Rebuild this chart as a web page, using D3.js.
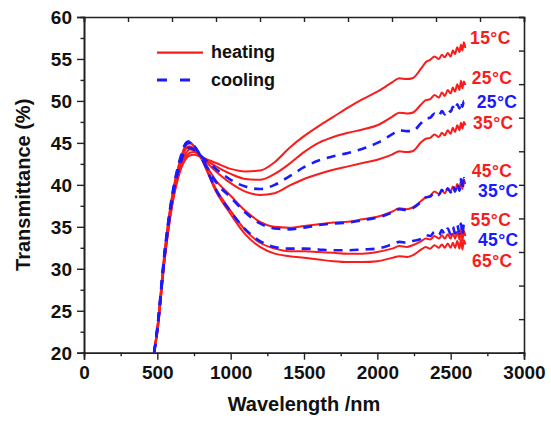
<!DOCTYPE html>
<html>
<head>
<meta charset="utf-8">
<script src="https://cdn.jsdelivr.net/npm/d3@7/dist/d3.min.js"></script>
<style>
  html, body { margin: 0; padding: 0; background: #fff; }
  svg { display: block; }
  text { font-family: "Liberation Sans", Arial, sans-serif; }
</style>
</head>
<body>
<svg id="chart" width="551" height="421"></svg>
<script>
// ---- data ----
const wavelength = [478, 500, 550, 600, 650, 700, 720, 750, 800, 900, 1000, 1100, 1200, 1300, 1400, 1500, 1600, 1700, 1800, 1900, 2000, 2100, 2150, 2200, 2240,
  2300, 2330, 2360, 2390, 2420, 2440, 2460, 2480, 2500, 2515, 2530, 2545, 2560, 2570, 2580, 2590, 2600];

const heating15 = [20, 22.4, 31.0, 37.4, 41.3, 43.2, 43.5, 43.6, 43.3, 42.6, 41.9, 41.6, 41.7, 42.7, 44.4, 45.8, 47.0, 48.1, 49.2, 50.2, 51.1, 52.2, 52.7, 52.6, 52.7,
  53.9, 54.6, 54.9, 55.3, 55.0, 55.5, 55.2, 55.7, 55.3, 56.0, 55.6, 56.4, 55.8, 56.7, 56.0, 57.0, 56.3];
const heating25 = [20, 22.5, 31.2, 37.6, 41.5, 43.5, 43.8, 43.9, 43.3, 42.2, 41.3, 40.7, 40.6, 41.3, 42.5, 43.9, 45.0, 45.7, 46.2, 46.6, 47.1, 48.1, 48.6, 48.5, 48.6,
  49.6, 50.1, 50.2, 50.7, 50.4, 51.0, 50.6, 51.3, 50.9, 51.6, 51.1, 52.0, 51.3, 52.4, 51.5, 52.3, 51.9];
const heating35 = [20, 22.6, 31.3, 37.8, 41.8, 43.9, 44.2, 44.1, 43.3, 41.6, 40.2, 39.2, 38.8, 39.0, 39.9, 40.7, 41.3, 41.8, 42.2, 42.6, 43.0, 43.6, 44.0, 43.9, 44.0,
  45.1, 45.5, 45.6, 46.0, 45.7, 46.2, 45.9, 46.5, 46.1, 46.8, 46.3, 47.1, 46.5, 47.4, 46.7, 47.5, 47.1];
const heating45 = [20, 22.8, 31.7, 38.2, 42.2, 44.4, 44.6, 44.3, 43.2, 40.5, 38.7, 36.9, 35.6, 35.0, 34.9, 35.1, 35.3, 35.5, 35.6, 35.9, 36.2, 36.8, 37.2, 37.1, 37.3,
  38.1, 38.5, 38.7, 39.2, 38.9, 39.3, 39.0, 39.5, 39.2, 39.8, 39.3, 40.1, 39.4, 40.5, 39.5, 40.6, 40.1];
const heating55 = [20, 22.9, 31.9, 38.5, 42.5, 44.8, 45.0, 44.6, 43.2, 39.5, 36.9, 34.6, 33.1, 32.4, 32.1, 32.1, 32.0, 31.9, 31.8, 31.8, 32.0, 32.4, 32.7, 32.6, 32.8,
  33.3, 33.6, 33.5, 33.9, 33.6, 34.0, 33.6, 34.1, 33.6, 34.2, 33.6, 34.4, 33.5, 34.6, 33.4, 34.5, 33.9];
const heating65 = [20, 23.0, 32.2, 38.6, 42.6, 44.9, 45.1, 44.6, 43.1, 39.2, 36.5, 34.1, 32.6, 31.8, 31.5, 31.3, 31.1, 30.9, 30.8, 30.8, 30.9, 31.3, 31.5, 31.4, 31.6,
  32.3, 32.6, 32.4, 32.8, 32.5, 32.9, 32.5, 33.0, 32.5, 33.1, 32.5, 33.3, 32.4, 33.5, 32.3, 33.4, 32.9];
const cooling25 = [20, 22.7, 31.6, 38.1, 42.1, 44.3, 44.4, 44.2, 43.4, 41.9, 40.6, 39.8, 39.5, 40.0, 41.0, 42.1, 42.9, 43.4, 43.8, 44.3, 45.0, 46.0, 46.5, 46.4, 46.4,
  47.4, 47.9, 48.0, 48.5, 48.2, 48.8, 48.4, 49.0, 48.7, 49.3, 48.9, 49.6, 49.1, 49.9, 49.3, 50.0, 49.7];
const cooling35 = [20, 22.9, 31.8, 38.4, 42.5, 44.9, 45.0, 44.6, 43.3, 40.3, 38.5, 36.7, 35.4, 34.8, 34.7, 34.9, 35.2, 35.4, 35.5, 35.8, 36.1, 36.7, 37.1, 37.0, 37.2,
  38.0, 38.5, 38.6, 39.1, 38.8, 39.4, 38.9, 39.6, 39.1, 39.9, 39.2, 40.2, 39.3, 40.7, 39.4, 40.8, 40.0];
const cooling45 = [20, 23.0, 32.1, 38.7, 42.8, 45.1, 45.2, 44.7, 43.3, 39.4, 36.8, 34.7, 33.3, 32.6, 32.4, 32.4, 32.3, 32.2, 32.2, 32.3, 32.4, 32.9, 33.2, 33.1, 33.3,
  33.6, 34.0, 33.9, 34.4, 34.0, 34.6, 34.1, 34.8, 34.1, 35.0, 34.2, 35.2, 34.2, 35.4, 34.0, 35.3, 34.6];

const heatingSeries = [heating15, heating25, heating35, heating45, heating55, heating65];
const coolingSeries = [cooling25, cooling35, cooling45];

const xTicks = [0, 500, 1000, 1500, 2000, 2500, 3000];
const yTicks = [20, 25, 30, 35, 40, 45, 50, 55, 60];

const labelText  = ["15°C", "25°C", "25°C", "35°C", "45°C", "35°C", "55°C", "45°C", "65°C"];
const labelKind  = ["heating", "heating", "cooling", "heating", "heating", "cooling", "heating", "cooling", "heating"];
const labelX     = [2632, 2643, 2677, 2652, 2643, 2686, 2636, 2686, 2645];
const labelY     = [57.56, 52.73, 49.91, 47.45, 41.65, 39.27, 35.87, 33.43, 31.0];

const legendNames = ["heating", "cooling"];

// ---- layout ----
const RED = "#fa1c1c", BLUE = "#1a1aff";
const svg = d3.select("#chart");
const mLeft = 84, mRight = 524, mTop = 17, mBottom = 352.7;

const x = d3.scaleLinear().domain([0, 3000]).range([mLeft, mRight]);
const y = d3.scaleLinear().domain([20, 60]).range([mBottom, mTop]);

const axisColor = "#222";
const tickFont = "bold 19px 'Liberation Sans', Arial, sans-serif";

// bottom axis (major + minor)
const gxMinor = svg.append("g").attr("transform", `translate(0,${mBottom})`)
  .call(d3.axisBottom(x).tickValues(d3.range(250, 3000, 500)).tickSize(3.5).tickFormat(""));
const gx = svg.append("g").attr("transform", `translate(0,${mBottom})`)
  .call(d3.axisBottom(x).tickValues(xTicks).tickSize(7).tickPadding(6).tickFormat(d3.format("d")));
// left axis
const gyMinor = svg.append("g").attr("transform", `translate(${mLeft},0)`)
  .call(d3.axisLeft(y).tickValues(d3.range(22.5, 60, 5)).tickSize(3.5).tickFormat(""));
const gy = svg.append("g").attr("transform", `translate(${mLeft},0)`)
  .call(d3.axisLeft(y).tickValues(yTicks).tickSize(7).tickPadding(5).tickFormat(d3.format("d")));
// top and right mirror axes (inward ticks)
const gt = svg.append("g").attr("transform", `translate(0,${mTop})`)
  .call(d3.axisBottom(x).tickValues(d3.range(0, 3001, 300)).tickSize(5).tickFormat(""));
const gr = svg.append("g").attr("transform", `translate(${mRight},0)`)
  .call(d3.axisLeft(y).tickValues(d3.range(20, 61, 4)).tickSize(5).tickFormat(""));

[gxMinor, gx, gyMinor, gy, gt, gr].forEach(g => {
  g.selectAll("path.domain").attr("stroke", axisColor).attr("stroke-width", 1.6);
  g.selectAll(".tick line").attr("stroke", axisColor).attr("stroke-width", 1.4);
  g.selectAll(".tick text").attr("fill", "#111").style("font", tickFont);
});
gx.selectAll(".tick text").attr("dy", "0.71em");
gy.selectAll(".tick text").attr("dy", "0.35em");

// axis titles
svg.append("text").attr("x", (mLeft + mRight) / 2).attr("y", 411)
  .attr("text-anchor", "middle").attr("fill", "#111")
  .style("font", "bold 20px 'Liberation Sans', Arial, sans-serif")
  .text("Wavelength /nm");
svg.append("text").attr("transform", `translate(30,${(mTop + mBottom) / 2}) rotate(-90)`)
  .attr("text-anchor", "middle").attr("fill", "#111")
  .style("font", "bold 20px 'Liberation Sans', Arial, sans-serif")
  .text("Transmittance (%)");

// curves
const line = d3.line()
  .x((d, i) => x(wavelength[i]))
  .y(d => y(d))
  .curve(d3.curveMonotoneX);

const plot = svg.append("g");
plot.selectAll("path.heat").data(heatingSeries).join("path")
  .attr("class", "heat")
  .attr("d", line)
  .attr("fill", "none").attr("stroke", RED).attr("stroke-width", 2)
  .attr("stroke-linejoin", "round");
plot.selectAll("path.cool").data(coolingSeries).join("path")
  .attr("class", "cool")
  .attr("d", line)
  .attr("fill", "none").attr("stroke", BLUE).attr("stroke-width", 2.6)
  .attr("stroke-dasharray", "9,7");

// curve labels
svg.selectAll("text.lbl").data(labelText).join("text")
  .attr("class", "lbl")
  .attr("x", (d, i) => x(labelX[i]))
  .attr("y", (d, i) => y(labelY[i]))
  .attr("dy", "0.36em")
  .attr("fill", (d, i) => labelKind[i] === "heating" ? RED : BLUE)
  .style("font", "bold 17.5px 'Liberation Sans', Arial, sans-serif")
  .style("letter-spacing", "0.4px")
  .text(d => d);

// legend
const legend = svg.append("g");
legendNames.forEach((name, i) => {
  const ly = 52.7 + i * 27.3;
  legend.append("line")
    .attr("x1", 157).attr("x2", 203).attr("y1", ly).attr("y2", ly)
    .attr("stroke", i === 0 ? RED : BLUE)
    .attr("stroke-width", i === 0 ? 2.2 : 2.8)
    .attr("stroke-dasharray", i === 0 ? null : "10,13");
  legend.append("text")
    .attr("x", 211).attr("y", ly).attr("dy", "0.32em")
    .attr("fill", "#111")
    .style("font", "bold 18px 'Liberation Sans', Arial, sans-serif")
    .text(name);
});
</script>
</body>
</html>
